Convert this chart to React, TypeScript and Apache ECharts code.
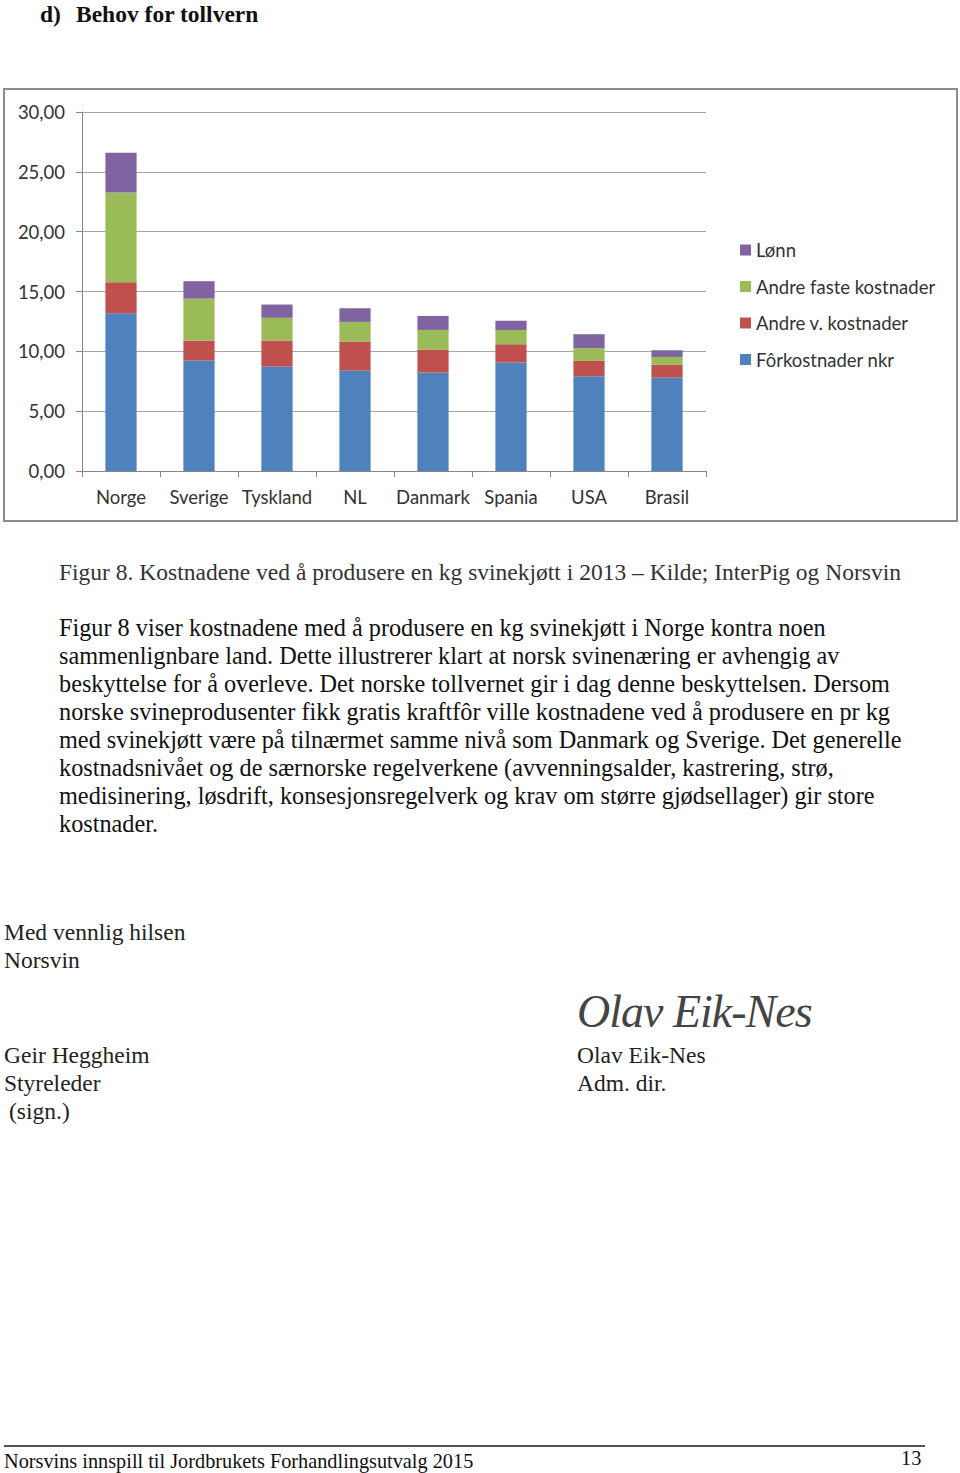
import React, { useEffect, useRef } from "react";
import * as echarts from "echarts";

const categories = ["Norge", "Sverige", "Tyskland", "NL", "Danmark", "Spania", "USA", "Brasil"];
const forkostnader = [13.19, 9.23, 8.73, 8.39, 8.22, 9.06, 7.92, 7.81];
const andreV = [2.59, 1.67, 2.17, 2.43, 1.93, 1.53, 1.28, 1.06];
const andreFaste = [7.5, 3.51, 1.9, 1.64, 1.64, 1.2, 1.06, 0.66];
const lonn = [3.32, 1.45, 1.11, 1.14, 1.17, 0.76, 1.17, 0.56];
const yTicks = { min: 0, max: 30, interval: 5 };

const seriesNames = ["Fôrkostnader nkr", "Andre v. kostnader", "Andre faste kostnader", "Lønn"];
const seriesColors = ["#4F81BD", "#C0504D", "#9BBB59", "#8064A2"];
const seriesData = [forkostnader, andreV, andreFaste, lonn];

const paragraph = [
  "Figur 8 viser kostnadene med å produsere en kg svinekjøtt i Norge kontra noen",
  "sammenlignbare land. Dette illustrerer klart at norsk svinenæring er avhengig av",
  "beskyttelse for å overleve. Det norske tollvernet gir i dag denne beskyttelsen. Dersom",
  "norske svineprodusenter fikk gratis kraftfôr ville kostnadene ved å produsere en pr kg",
  "med svinekjøtt være på tilnærmet samme nivå som Danmark og Sverige. Det generelle",
  "kostnadsnivået og de særnorske regelverkene (avvenningsalder, kastrering, strø,",
  "medisinering, løsdrift, konsesjonsregelverk og krav om større gjødsellager) gir store",
  "kostnader.",
];

const serif = "'Liberation Serif', 'DejaVu Serif', serif";
const sans = "Lato, 'Open Sans', sans-serif";

function Line(props: { x: number; y: number; size: number; children: React.ReactNode; style?: React.CSSProperties }) {
  return (
    <div
      style={{
        position: "absolute",
        left: props.x,
        top: props.y - props.size * 0.6,
        fontSize: props.size,
        lineHeight: `${props.size * 1.2}px`,
        fontFamily: serif,
        color: "#111",
        whiteSpace: "pre",
        ...props.style,
      }}
    >
      {props.children}
    </div>
  );
}

export default function App() {
  const ref = useRef<HTMLDivElement>(null);
  useEffect(() => {
    if (!ref.current) return;
    const chart = echarts.init(ref.current, undefined, { renderer: "svg" });
    chart.setOption({
      animation: false,
      backgroundColor: "#fff",
      graphic: [
        {
          type: "rect",
          shape: { x: 4, y: 89, width: 953, height: 432 },
          style: { fill: "none", stroke: "#8c8c8c", lineWidth: 2 },
        },
      ],
      grid: { left: 82, top: 112, width: 624, height: 359, containLabel: false },
      legend: {
        orient: "vertical",
        left: 735,
        top: 235,
        icon: "rect",
        itemWidth: 11,
        itemHeight: 11,
        itemGap: 16.5,
        data: ["Lønn", "Andre faste kostnader", "Andre v. kostnader", "Fôrkostnader nkr"],
        textStyle: { fontFamily: sans, fontSize: 18.5, color: "#333", lineHeight: 20 },
      },
      xAxis: {
        type: "category",
        data: categories,
        axisLine: { show: true, lineStyle: { color: "#868686", width: 1 } },
        axisTick: { show: true, length: 6, lineStyle: { color: "#868686" } },
        axisLabel: { fontFamily: sans, fontSize: 18.5, color: "#333", margin: 16, interval: 0 },
      },
      yAxis: {
        type: "value",
        min: yTicks.min,
        max: yTicks.max,
        interval: yTicks.interval,
        axisLine: { show: true, lineStyle: { color: "#868686", width: 1 } },
        axisTick: { show: true, length: 6, lineStyle: { color: "#868686" } },
        splitLine: { show: true, lineStyle: { color: "#a6a6a6", width: 1 } },
        axisLabel: {
          fontFamily: sans,
          fontSize: 18.5,
          color: "#333",
          margin: 17,
          formatter: (v: number) => v.toFixed(2).replace(".", ","),
        },
      },
      series: seriesData.map((d, i) => ({
        name: seriesNames[i],
        type: "bar",
        stack: "total",
        data: d,
        barWidth: "40%",
        itemStyle: { color: seriesColors[i] },
      })),
    });
    return () => chart.dispose();
  }, []);

  return (
    <div style={{ position: "absolute", left: 0, top: 0, width: 960, height: 1473, background: "#fff", overflow: "hidden" }}>
      <div ref={ref} style={{ position: "absolute", left: 0, top: 0, width: 960, height: 1473 }} />
      <Line x={40} y={14.5} size={23.5} style={{ fontWeight: "bold" }}>d)</Line>
      <Line x={76} y={14.5} size={23.5} style={{ fontWeight: "bold" }}>Behov for tollvern</Line>
      <Line x={59} y={572} size={23.5} style={{ color: "#333" }}>
        Figur 8. Kostnadene ved å produsere en kg svinekjøtt i 2013 – Kilde; InterPig og Norsvin
      </Line>
      {paragraph.map((t, i) => (
        <Line key={i} x={59} y={628 + i * 28} size={24.25}>
          {t}
        </Line>
      ))}
      <Line x={4} y={932} size={23.5} style={{ color: "#222" }}>Med vennlig hilsen</Line>
      <Line x={4} y={960} size={23.5} style={{ color: "#222" }}>Norsvin</Line>
      <Line x={4} y={1055} size={23.5} style={{ color: "#222" }}>Geir Heggheim</Line>
      <Line x={4} y={1083} size={23.5} style={{ color: "#222" }}>Styreleder</Line>
      <Line x={9} y={1111} size={23.5} style={{ color: "#222" }}>(sign.)</Line>
      <Line x={577} y={1055} size={23.5} style={{ color: "#222" }}>Olav Eik-Nes</Line>
      <Line x={577} y={1083} size={23.5} style={{ color: "#222" }}>Adm. dir.</Line>
      <Line x={577} y={1012} size={46} style={{ fontStyle: "italic", color: "#444", letterSpacing: -1 }}>
        Olav Eik-Nes
      </Line>
      <div style={{ position: "absolute", left: 4, top: 1445, width: 921, height: 2, background: "#555" }} />
      <Line x={4} y={1461} size={20.3} style={{ color: "#111" }}>Norsvins innspill til Jordbrukets Forhandlingsutvalg 2015</Line>
      <Line x={901} y={1458} size={20.3} style={{ color: "#111" }}>13</Line>
    </div>
  );
}
